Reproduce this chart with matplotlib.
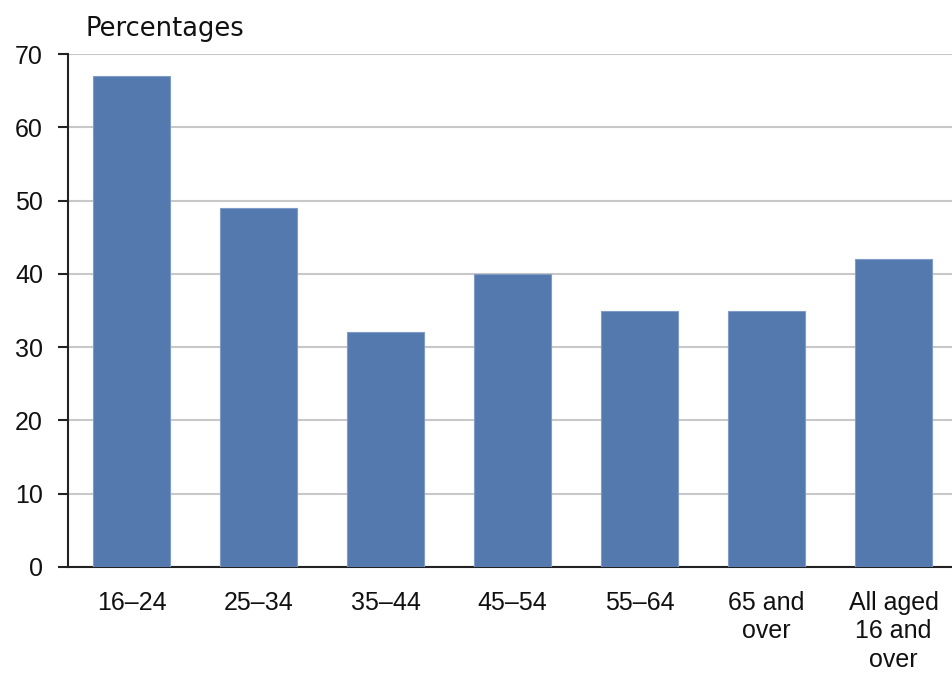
import matplotlib
matplotlib.use("Agg")
import matplotlib.pyplot as plt

categories = ["16\u201324", "25\u201334", "35\u201344", "45\u201354", "55\u201364",
              "65 and\nover", "All aged\n16 and\nover"]
values = [67, 49, 32, 40, 35, 35, 42]
y_ticks = [0, 10, 20, 30, 40, 50, 60, 70]

W, H = 952, 674
fig = plt.figure(figsize=(W / 100, H / 100), dpi=100)
left, right, bottom, top = 68, 957, 567, 54
ax = fig.add_axes([left / W, 1 - bottom / H, (right - left) / W, (bottom - top) / H])

x = range(len(categories))
ax.bar(x, values, width=0.6, color="#5479AE", edgecolor="#7F9CC6", linewidth=0.8, zorder=3)

ax.set_xlim(-0.5, len(categories) - 0.5)
ax.set_ylim(0, 70)
ax.set_yticks(y_ticks)
ax.set_xticks(list(x))
ax.set_xticklabels(categories, fontfamily="Liberation Sans", fontsize=18,
                   linespacing=1.24, color="#111111")
ax.set_yticklabels([str(t) for t in y_ticks], fontfamily="Liberation Sans",
                   fontsize=18, color="#111111")

ax.yaxis.grid(True, color="#C8C8C8", linewidth=1.5, zorder=0)
ax.set_axisbelow(True)
for s in ["top", "right"]:
    ax.spines[s].set_visible(False)
for s in ["left", "bottom"]:
    ax.spines[s].set_color("#222222")
    ax.spines[s].set_linewidth(1.5)

ax.tick_params(axis="y", length=7, width=1.5, color="#222222", pad=11)
ax.tick_params(axis="x", length=0, pad=17)

fig.text(85 / W, 1 - 29 / H, "Percentages", fontfamily="DejaVu Sans", fontsize=18.5,
         va="center", ha="left", color="#111111")

fig.savefig("out.png", dpi=100)
